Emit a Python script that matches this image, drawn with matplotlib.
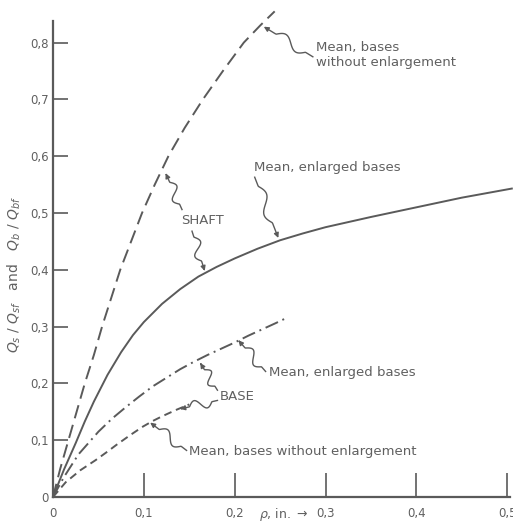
import numpy as np
import matplotlib
matplotlib.use('Agg')
import matplotlib.pyplot as plt

# Readings (rho in inches vs load ratio)
shaft_plain_x = [0, 0.008, 0.017, 0.026, 0.035, 0.045, 0.054, 0.064, 0.074, 0.086, 0.098,
                 0.112, 0.127, 0.145, 0.165, 0.187, 0.21, 0.228, 0.244]
shaft_plain_y = [0, 0.05, 0.1, 0.15, 0.2, 0.25, 0.3, 0.35, 0.4, 0.45, 0.5,
                 0.55, 0.6, 0.65, 0.7, 0.75, 0.8, 0.83, 0.855]

shaft_enl_x = [0, 0.012, 0.025, 0.035, 0.045, 0.06, 0.075, 0.088, 0.1, 0.12, 0.14, 0.16,
               0.18, 0.2, 0.225, 0.25, 0.275, 0.3, 0.35, 0.4, 0.45, 0.505]
shaft_enl_y = [0, 0.048, 0.095, 0.133, 0.168, 0.215, 0.255, 0.285, 0.308, 0.34, 0.366, 0.388,
               0.405, 0.42, 0.437, 0.452, 0.464, 0.475, 0.493, 0.51, 0.527, 0.543]

base_enl_x = [0, 0.012, 0.028, 0.05, 0.065, 0.08, 0.095, 0.11, 0.125, 0.14, 0.155, 0.17,
              0.185, 0.2, 0.215, 0.23, 0.245, 0.258]
base_enl_y = [0, 0.035, 0.075, 0.115, 0.138, 0.158, 0.177, 0.195, 0.21, 0.225, 0.238, 0.25,
              0.261, 0.272, 0.284, 0.295, 0.306, 0.316]

base_plain_x = [0, 0.014, 0.03, 0.047, 0.06, 0.07, 0.085, 0.099, 0.11, 0.12, 0.135, 0.15]
base_plain_y = [0, 0.026, 0.047, 0.065, 0.08, 0.092, 0.109, 0.124, 0.134, 0.142, 0.153, 0.163]

x_ticks = [0, 0.1, 0.2, 0.3, 0.4, 0.5]
x_labels = ['0', '0,1', '0,2', '0,3', '0,4', '0,5']
y_ticks = [0, 0.1, 0.2, 0.3, 0.4, 0.5, 0.6, 0.7, 0.8]
y_labels = ['0', '0,1', '0,2', '0,3', '0,4', '0,5', '0,6', '0,7', '0,8']

ink = '#5a5a5a'
txt = '#606060'

fig = plt.figure(figsize=(5.13, 5.27), dpi=100)
ax = fig.add_axes([53 / 513, 30 / 527, 457 / 513, 476 / 527])
ax.set_xlim(0, 0.503)
ax.set_ylim(0, 0.838)

ax.plot(shaft_plain_x, shaft_plain_y, color=ink, lw=1.4, ls=(0, (7, 3.5)), clip_on=False)
ax.plot(shaft_enl_x, shaft_enl_y, color=ink, lw=1.4, clip_on=False)
ax.plot(base_enl_x, base_enl_y, color=ink, lw=1.4, ls=(0, (7, 2.5, 1, 2.5)), clip_on=False)
ax.plot(base_plain_x, base_plain_y, color=ink, lw=1.4, ls=(0, (4, 2.5)), clip_on=False)

for s in ['top', 'right']:
    ax.spines[s].set_visible(False)
for s in ['left', 'bottom']:
    ax.spines[s].set_color(ink)
    ax.spines[s].set_linewidth(1.6)

ax.set_xticks(x_ticks)
ax.set_xticklabels(x_labels)
ax.set_yticks(y_ticks)
ax.set_yticklabels(y_labels)
ax.tick_params(axis='x', direction='in', length=17, width=1.2, color=ink, pad=7,
               labelsize=8.5, labelcolor=txt)
ax.tick_params(axis='y', direction='in', length=11, width=1.2, color=ink, pad=3,
               labelsize=8.5, labelcolor=txt)

# x label sits in the tick-label row, between 0,2 and 0,3
ax.text(0.281, -0.019, r'$\rho$, in. $\rightarrow$', transform=ax.get_xaxis_transform(),
        fontsize=9, color=txt, ha='right', va='top')

fig.text(14 / 513, 1 - 275 / 527, r'$Q_s$ / $Q_{sf}$   and   $Q_b$ / $Q_{bf}$',
         rotation=90, ha='center', va='center', fontsize=10, color=txt)


def squiggle(start, end, waves=1.0, amp=5):
    # wavy leader in pixel space, drawn back in data coords
    p0 = ax.transData.transform(start)
    p1 = ax.transData.transform(end)
    d = p1 - p0
    n = np.array([-d[1], d[0]]) / np.hypot(*d)
    t = np.linspace(0, 1, 60)
    w = np.where((t > 0.15) & (t < 0.75), np.sin((t - 0.15) / 0.6 * 2 * np.pi * waves), 0)
    pts = p0 + np.outer(t, d) + np.outer(amp * w, n)
    dpts = ax.transData.inverted().transform(pts)
    ax.plot(dpts[:-3, 0], dpts[:-3, 1], color=ink, lw=1.0, clip_on=False)
    ax.annotate('', xy=dpts[-1], xytext=dpts[-4],
                arrowprops=dict(arrowstyle='-|>', color=ink, lw=1.0,
                                mutation_scale=7, shrinkA=0, shrinkB=0),
                annotation_clip=False)


fs = 9.5
ax.text(0.29, 0.779, 'Mean, bases\nwithout enlargement', fontsize=fs, color=txt,
        ha='left', va='center', linespacing=1.2)
squiggle((0.286, 0.775), (0.232, 0.828))

ax.text(0.221, 0.58, 'Mean, enlarged bases', fontsize=fs, color=txt, ha='left', va='center')
squiggle((0.222, 0.563), (0.248, 0.456))

ax.text(0.141, 0.487, 'SHAFT', fontsize=fs, color=txt, ha='left', va='center')
squiggle((0.142, 0.506), (0.124, 0.57))
squiggle((0.153, 0.468), (0.167, 0.398))

ax.text(0.183, 0.177, 'BASE', fontsize=fs, color=txt, ha='left', va='center')
squiggle((0.181, 0.188), (0.162, 0.236))
squiggle((0.181, 0.17), (0.14, 0.155))

ax.text(0.238, 0.219, 'Mean, enlarged bases', fontsize=fs, color=txt, ha='left', va='center')
squiggle((0.234, 0.221), (0.204, 0.276))

ax.text(0.15, 0.08, 'Mean, bases without enlargement', fontsize=fs, color=txt,
        ha='left', va='center')
squiggle((0.147, 0.082), (0.107, 0.131))

fig.savefig('out.png', dpi=100)
